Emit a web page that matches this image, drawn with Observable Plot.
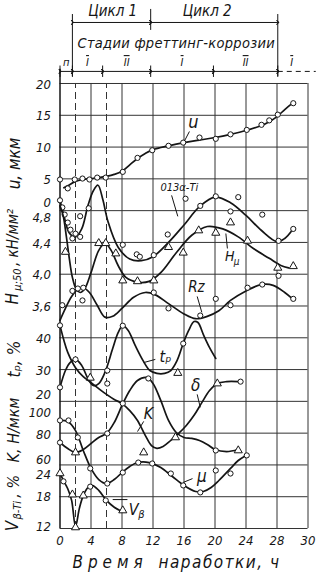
<!DOCTYPE html>
<html><head><meta charset="utf-8">
<script src="https://cdn.jsdelivr.net/npm/d3@7"></script>
<script src="https://cdn.jsdelivr.net/npm/@observablehq/plot@0.6"></script>
<style>
html,body{margin:0;padding:0;background:#fff;}
#chart svg{display:block;}
</style></head><body><div id="chart"></div>
<script>
// ---------- axes ----------
const xTicks = [0, 4, 8, 12, 16, 20, 24, 28, 32];
const xTickLabels = ["0", "4", "8", "12", "16", "20", "24", "28", "30"];
const xDashed = [2, 6];
const gridRows = [0,1,2,3,4,5,6,7,8,9,10,11,12,13,14];

const uTicks = [0, 5, 10, 15, 20];
const hTicks = [3.6, 4.0, 4.4, 4.8];
const hTickLabels = ["3,6", "4,0", "4,4", "4,8"];
const tpTicks = [20, 30, 40];
const kTicks = [60, 80, 100];
const vTicks = [12, 18, 24];

// stages of fretting corrosion (hours)
const stageBounds = [0, 1.6, 5.5, 11.7, 19.8, 28.1];
const stageNames = ["п", "I", "II", "I", "II", "I"];
const cycleBounds = [1.6, 11.7, 28.1];
const cycleNames = ["Цикл 1", "Цикл 2"];

// ---------- series: [hours, value] ----------
// U, мкм
const uPts = [[0,4.9],[1.0,3.5],[1.9,4.9],[2.9,5.05],[3.8,4.9],[4.8,5.2],[5.9,5.2],[8.1,6.1],[10.0,8.3],[11.9,9.5],[14.0,10.2],[15.9,10.7],[18.0,11.5],[20.1,11.3],[22.0,12.0],[24.1,12.7],[26.0,13.5],[27.0,14.2],[28.1,15.1],[30.1,16.9]];
const uLine = [[0.5,3.6],[1,3.9],[2,4.6],[3,4.9],[4,5.05],[5,5.2],[6,5.4],[7,5.7],[8,6.2],[9,7.2],[10,8.2],[11,9.0],[12,9.6],[14,10.2],[16,10.7],[18,11.1],[20,11.5],[22,12.0],[24,12.6],[26,13.4],[27,14.0],[28,14.8],[29,15.9],[30,16.9]];
// 013 α-Ti (read against the Hμ axis)
const aPts = [[0,4.93],[0.3,4.84],[0.6,4.75],[1.0,4.65],[1.35,4.56],[1.6,4.45],[2.0,4.51],[2.6,4.73],[2.6,4.47],[3.7,4.83],[8.1,4.37],[9.9,4.25],[10.3,4.22],[12.1,4.24],[13.9,4.50],[16.2,4.95],[18.1,4.86],[20.1,4.98],[22.0,4.79],[23.0,4.97],[26.1,4.75],[28.2,4.42],[30.1,4.57]];
const aLine = [[0,4.93],[0.5,4.74],[1.2,4.52],[2,4.47],[2.8,4.57],[3.6,4.86],[4.3,5.05],[4.9,5.12],[5.5,4.95],[6.2,4.66],[7.5,4.34],[9,4.19],[10.5,4.17],[12,4.22],[14,4.40],[16,4.62],[18,4.85],[20,4.97],[22,4.90],[24,4.74],[26,4.55],[28,4.41],[29,4.45],[30,4.56]];
// Hμ;50, кН/мм²
const hPts = [[0.7,4.28],[5.0,4.39],[5.9,4.39],[7.2,4.26],[8.1,3.92],[10.0,3.91],[12.1,3.92],[14.0,4.34],[15.9,4.27],[17.9,4.55],[20.1,4.52],[22.0,4.65],[24.2,4.42],[28.1,4.08],[30.1,4.10]];
const hLine = [[0,4.86],[0.4,4.74],[0.8,4.49],[1.2,4.20],[1.6,3.96],[2.1,3.81],[2.6,3.77],[3.2,3.82],[4,4.02],[5,4.30],[5.8,4.39],[6.6,4.30],[7.5,4.11],[8.5,3.96],[10,3.90],[11.5,3.91],[13,4.02],[15,4.27],[17,4.49],[19,4.60],[21,4.57],[23,4.47],[25,4.32],[27,4.20],[28.5,4.11],[29.5,4.08]];
// Rz (read against the Hμ axis)
const rPts = [[0.3,3.61],[1.6,3.79],[2.3,3.82],[3.0,3.83],[2.9,3.67],[12.1,3.77],[14.0,3.57],[18.1,3.48],[20.1,3.69],[22.0,3.61],[24.2,3.83],[26.1,3.87],[28.2,3.98],[30.1,3.69]];
const rLine = [[0,3.42],[0.7,3.57],[1.5,3.72],[2.3,3.81],[3,3.83],[3.8,3.77],[4.8,3.61],[5.8,3.46],[6.8,3.47],[8,3.57],[9.5,3.71],[11,3.77],[12.3,3.74],[14,3.63],[16,3.50],[17.5,3.44],[19,3.47],[20.5,3.54],[22,3.67],[24,3.79],[26,3.87],[27.5,3.86],[29,3.77],[30,3.69]];
// tp, %
const tPts = [[0,24.4],[2.0,33.2],[6.1,29.7],[8.1,43.8],[15.9,38.2]];
const tTri = [[3.9,27.4],[15.2,28.9]];
const tLine = [[0,24.4],[0.7,29.7],[1.3,32.2],[2,33.2],[2.8,31.3],[3.6,27.2],[4.3,25.0],[5,25.6],[5.8,29.1],[6.8,36.6],[7.5,41.6],[8.1,43.8],[8.8,42.3],[9.7,37.6],[10.7,32.9],[11.6,29.7],[12.5,28.8],[13.5,28.8],[14.3,29.7],[15.1,32.8],[15.9,38.2],[16.6,42.3],[17.3,45.1],[17.8,44.8],[18.5,41.0],[19.3,36.9],[20.1,33.5]];
// δ (read against the tp axis)
const dPts = [[0,43.9],[6.1,25.6],[23.3,26.2]];
const dTri = [[20.3,25.6]];
const dLine = [[0,43.9],[0.5,39.2],[1,35.4],[2,30.6],[3,27.8],[4,25.9],[5,24.0],[6,22.2],[7,20.6],[8,19.3],[9,17.1],[10,14.0],[11,9.3],[11.8,6.1],[12.5,5.2],[13.3,5.8],[14.3,7.7],[15.3,9.9],[16.3,12.4],[17.3,15.6],[18.3,19.6],[19.3,23.4],[20.3,25.6],[21.5,26.2],[23,26.2]];
// K, Н/мкм
const kPts = [[0,74.1],[6.1,79.8],[8.1,98.7],[11.4,114.4],[20.1,69.1]];
const kTri = [[2.0,67.8],[10.8,67.8],[14.9,77.3],[23.0,69.1]];
const kLine = [[0,74.1],[1,70.3],[2,67.8],[3,69.7],[4,73.5],[5,77.3],[6,79.8],[7,86.7],[8,97.4],[9,106.8],[10,113.1],[11.2,115.0],[12,111.3],[13,100.6],[14,88.0],[15,80.4],[16,77.3],[17,76.7],[18,75.4],[19,72.9],[20,69.7],[21.5,68.4],[23,69.7]];
// μ (read against the K axis)
const mPts = [[0,88.0],[1.1,88.0],[2.3,77.3],[3.9,57.8],[6.1,48.3],[8.1,55.2],[10.1,61.5],[11.9,60.9],[14.3,54.6],[15.9,47.1],[18.1,42.7],[20.1,56.5],[22.0,54.6],[24.1,66.0]];
const mLine = [[0,88.0],[1,87.3],[2,81.6],[3,69.1],[4,57.8],[5,50.8],[6,48.3],[7,50.8],[8,55.2],[9,59.0],[10,61.5],[11.5,61.5],[13,58.4],[14.5,52.7],[16,47.1],[17.5,43.3],[18.5,43.3],[19.5,45.8],[20.5,50.2],[22,57.8],[23,62.8],[24,66.0]];
// Vβ-Ti, %
const vPts = [[0.45,20.9],[3.9,19.9],[5.9,17.3]];
const vTri = [[0,22.4],[1.6,18.4],[2.0,12.2],[3.0,18.2],[8.1,15.4]];
const vLine = [[0,22.4],[0.5,20.9],[1,19.5],[1.5,17.3],[2,12.4],[2.5,15.8],[3,18.2],[3.6,19.7],[4.2,20.1],[5,19.2],[6,17.3],[7,16.0],[8,15.2]];

// ---------- map each quantity onto the shared grid rows ----------
const lvU = v => 10 + v / 5;
const lvH = v => 7 + (v - 3.6) / 0.4;
const lvT = v => 4 + (v - 20) / 10;
const lvK = v => 2 + (v - 60) / 20;
const lvV = v => (v - 12) / 6;
const ROW = 31.786; // pixels per grid row

const INK = "#151515";
const FONT = "'DejaVu Sans Condensed','DejaVu Sans',sans-serif";

function curve(data, f) {
  return Plot.line(data, {x: d => d[0], y: d => f(d[1]), curve: "catmull-rom", stroke: INK, strokeWidth: 1.7});
}
function circles(data, f) {
  return Plot.dot(data, {x: d => d[0], y: d => f(d[1]), r: 2.6, fill: "white", stroke: INK, strokeWidth: 1});
}
function tris(data, f) {
  return Plot.dot(data, {x: d => d[0], y: d => f(d[1]), r: 3, symbol: "triangle", fill: "white", stroke: INK, strokeWidth: 1});
}

// y tick labels (nudge in px where neighbouring scales share a grid line)
const yLabels = [
  ...uTicks.map(v => ({lv: lvU(v), t: String(v), nudge: v === 0 ? -8 : 1})),
  ...hTicks.map((v, i) => ({lv: lvH(v), t: hTickLabels[i], nudge: v === 4.8 ? 7 : 1})),
  ...tpTicks.map(v => ({lv: lvT(v), t: String(v), nudge: v === 20 ? -7 : 1})),
  ...kTicks.map(v => ({lv: lvK(v), t: String(v), nudge: v === 100 ? 11 : v === 60 ? -5 : 2})),
  ...vTicks.map(v => ({lv: lvV(v), t: String(v), nudge: v === 24 ? 10 : v === 12 ? -2 : 0}))
];

// annotation texts (positions in hours / grid rows)
const notes = [
  {x: 6.8, y: 16.27, t: "Цикл 1", s: 15},
  {x: 19.0, y: 16.27, t: "Цикл 2", s: 15},
  {x: 15.0, y: 15.26, t: "Стадии фреттинг-коррозии", s: 14.5},
  {x: 17.2, y: 12.77, t: "u", s: 18},
  {x: 15.4, y: 10.73, t: "013α-Ti", s: 11},
  {x: 21.9, y: 8.56, t: "H", s: 14},
  {x: 22.8, y: 8.40, t: "μ", s: 10},
  {x: 17.6, y: 7.58, t: "Rz", s: 15},
  {x: 13.6, y: 5.41, t: "tₚ", s: 16},
  {x: 17.5, y: 4.50, t: "δ", s: 17},
  {x: 11.4, y: 3.62, t: "K", s: 16},
  {x: 18.3, y: 1.64, t: "μ", s: 17},
  {x: 9.5, y: 0.60, t: "V", s: 16},
  {x: 10.5, y: 0.45, t: "β", s: 11}
];
const leaders = [
  [16.7, 12.49, 16.1, 12.21],
  [14.4, 10.48, 15.2, 9.82],
  [21.6, 8.81, 21.4, 9.28],
  [17.7, 7.30, 18.3, 6.80],
  [12.3, 5.32, 10.8, 5.22],
  [17.7, 4.22, 18.1, 3.81],
  [10.8, 3.37, 10.0, 3.05],
  [17.1, 1.57, 15.9, 1.45],
  [6.8, 0.91, 8.7, 0.91]
];
// rotated axis titles, start-anchored (text runs upward from the anchor)
const axisTitles = [
  {x: -5.9, y: 10.67, t: "u, мкм", s: 17},
  {x: -6.1, y: 7.05, t: "H", s: 17},
  {x: -5.45, y: 7.48, t: "μ;50", s: 11},
  {x: -6.0, y: 8.26, t: ", кН/мм²", s: 15},
  {x: -5.9, y: 4.75, t: "tₚ, %", s: 17},
  {x: -6.0, y: 2.08, t: "K, Н/мкм", s: 16},
  {x: -6.1, y: -0.09, t: "V", s: 17},
  {x: -5.45, y: 0.28, t: "β-Ti", s: 11},
  {x: -6.0, y: 0.97, t: ", %", s: 16}
];

const stageSegs = stageBounds.slice(0, -1).map((b, i) => ({a: b, b: stageBounds[i + 1]}));
const stageMid = stageSegs.map((s, i) => ({x: (s.a + s.b) / 2, t: stageNames[i]}));
stageMid.push({x: 29.9, t: stageNames[5]});
const cycleSegs = cycleBounds.slice(0, -1).map((b, i) => ({a: b, b: cycleBounds[i + 1]}));

const plot = Plot.plot({
  width: 317, height: 575,
  marginLeft: 59.5, marginRight: 9.5, marginTop: 0, marginBottom: 47,
  x: {domain: [0, 32], axis: null},
  y: {domain: [0, 14 + 83 / ROW], axis: null},
  style: {background: "#fff", fontFamily: FONT, color: INK},
  marks: [
    // grid
    Plot.ruleY(gridRows, {y: d => d, x1: 0, x2: 32, stroke: "#333", strokeWidth: 1}),
    Plot.ruleX(xTicks.slice(1), {x: d => d, y1: 0, y2: 14, stroke: "#333", strokeWidth: 1}),
    Plot.ruleX(xDashed, {x: d => d, y1: 0, y2: 14, stroke: "#333", strokeWidth: 1, strokeDasharray: "7,4"}),
    Plot.ruleX([0], {x: d => d, y1: 0, y2: 14.45, stroke: INK, strokeWidth: 1.5}),
    // stage row
    Plot.link(stageSegs, {x1: "a", x2: "b", y1: 14.38, y2: 14.38, stroke: INK, strokeWidth: 1, markerStart: "arrow", markerEnd: "arrow"}),
    Plot.link([{a: 28.1, b: 33}], {x1: "a", x2: "b", y1: 14.38, y2: 14.38, stroke: INK, strokeWidth: 1, strokeDasharray: "5,4", markerStart: "arrow"}),
    Plot.ruleX(stageBounds, {x: d => d, y1: 14.19, y2: 14.55, stroke: INK, strokeWidth: 1}),
    Plot.text(stageMid, {x: "x", y: 14.66, text: "t", fontSize: 11, fontStyle: "italic"}),
    // cycles
    Plot.link(cycleSegs, {x1: "a", x2: "b", y1: 15.92, y2: 15.92, stroke: INK, strokeWidth: 1, markerStart: "arrow", markerEnd: "arrow"}),
    Plot.ruleX([cycleBounds[0], cycleBounds[2]], {x: d => d, y1: 14.22, y2: 16.17, stroke: INK, strokeWidth: 1}),
    Plot.ruleX([cycleBounds[1]], {x: d => d, y1: 15.67, y2: 16.33, stroke: INK, strokeWidth: 1}),
    // curves
    curve(uLine, lvU), circles(uPts, lvU),
    curve(aLine, lvH), circles(aPts, lvH),
    curve(hLine, lvH), tris(hPts, lvH),
    curve(rLine, lvH), circles(rPts, lvH),
    curve(tLine, lvT), circles(tPts, lvT), tris(tTri, lvT),
    curve(dLine, lvT), circles(dPts, lvT), tris(dTri, lvT),
    curve(kLine, lvK), circles(kPts, lvK), tris(kTri, lvK),
    curve(mLine, lvK), circles(mPts, lvK),
    curve(vLine, lvV), circles(vPts, lvV), tris(vTri, lvV),
    // leaders and labels
    Plot.link(leaders, {x1: d => d[0], y1: d => d[1], x2: d => d[2], y2: d => d[3], stroke: INK, strokeWidth: 1}),
    Plot.text(notes, {x: "x", y: "y", text: "t", fontSize: d => d.s, fontStyle: "italic", fill: INK}),
    // y tick labels
    Plot.text(yLabels, {x: 0, y: d => d.lv - d.nudge / ROW, text: "t", dx: -9, textAnchor: "end", fontSize: 13, fontStyle: "italic", fill: INK}),
    // x tick labels
    Plot.text(xTicks, {x: d => d, y: 0, dy: 12, text: (d, i) => xTickLabels[i], fontSize: 13, fontStyle: "italic", fill: INK}),
    // axis titles
    Plot.text(axisTitles, {x: "x", y: "y", text: "t", rotate: -90, textAnchor: "start", fontSize: d => d.s, fontStyle: "italic", fill: INK}),
    Plot.text(["Время"], {x: 1.6, y: -1.07, text: d => d, textAnchor: "start", fontSize: 17, fontStyle: "italic", fill: INK}),
    Plot.text(["наработки, ч"], {x: 12.7, y: -1.07, text: d => d, textAnchor: "start", fontSize: 17, fontStyle: "italic", fill: INK})
  ]
});

d3.select(plot).selectAll("text").each(function () {
  const t = this.textContent;
  if (t === "Время") d3.select(this).attr("letter-spacing", 5);
  if (t === "наработки, ч") d3.select(this).attr("letter-spacing", 1.5);
  if (t === "Стадии фреттинг-коррозии") d3.select(this).attr("letter-spacing", 0.3);
  if (t === "I" || t === "II") d3.select(this).style("text-decoration", "overline");
});
document.getElementById("chart").appendChild(plot);
</script></body></html>
